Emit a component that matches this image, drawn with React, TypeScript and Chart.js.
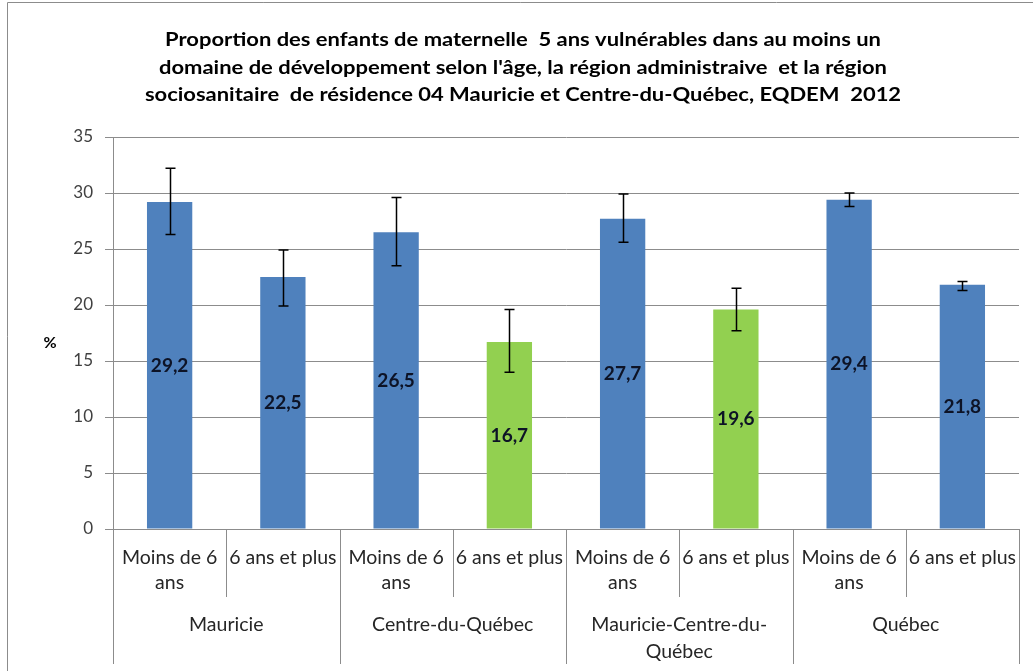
import React, { useEffect, useRef } from "react";
import { Chart, registerables } from "chart.js";

Chart.register(...registerables);

const TITLE_LINES = [
  "Proportion des enfants de maternelle  5 ans vulnérables dans au moins un",
  "domaine de développement selon l'âge, la région administraive  et la région",
  "sociosanitaire  de résidence 04 Mauricie et Centre-du-Québec, EQDEM  2012",
];
const GROUPS: string[][] = [["Mauricie"], ["Centre-du-Québec"], ["Mauricie-Centre-du-", "Québec"], ["Québec"]];
const SUBCATEGORIES: string[][] = [["Moins de 6", "ans"], ["6 ans et plus"]];
const VALUES = [29.2, 22.5, 26.5, 16.7, 27.7, 19.6, 29.4, 21.8];
const VALUE_LABELS = ["29,2", "22,5", "26,5", "16,7", "27,7", "19,6", "29,4", "21,8"];
const ERR_LOW = [26.3, 19.9, 23.5, 14.0, 25.6, 17.7, 28.8, 21.3];
const ERR_HIGH = [32.2, 24.9, 29.6, 19.6, 29.9, 21.5, 30.0, 22.1];
const BLUE = "#4F81BD";
const GREEN = "#92D050";
const BAR_COLORS = [BLUE, BLUE, BLUE, GREEN, BLUE, GREEN, BLUE, BLUE];
const Y_MIN = 0;
const Y_MAX = 35;
const Y_STEP = 5;
const Y_TITLE = "%";

const FONT = "Lato";
const GRID = "#8c8c8c";

const LABELS: string[] = [];
GROUPS.forEach((g) => SUBCATEGORIES.forEach((s) => LABELS.push(g.join(" ") + " - " + s.join(" "))));

const decorations = {
  id: "decorations",
  afterDatasetsDraw(chart: any) {
    const ctx = chart.ctx;
    const meta = chart.getDatasetMeta(0);
    const y = chart.scales.y;
    ctx.save();
    // error bars
    ctx.strokeStyle = "#000";
    ctx.lineWidth = 1.5;
    meta.data.forEach((bar: any, i: number) => {
      const x = Math.round(bar.x) + 0.5;
      const yt = y.getPixelForValue(ERR_HIGH[i]);
      const yb = y.getPixelForValue(ERR_LOW[i]);
      ctx.beginPath();
      ctx.moveTo(x, yt);
      ctx.lineTo(x, yb);
      ctx.moveTo(x - 5, yt);
      ctx.lineTo(x + 5, yt);
      ctx.moveTo(x - 5, yb);
      ctx.lineTo(x + 5, yb);
      ctx.stroke();
    });
    // data labels
    ctx.fillStyle = "#0d1326";
    ctx.font = `bold 19px ${FONT}`;
    ctx.textAlign = "center";
    ctx.textBaseline = "middle";
    meta.data.forEach((bar: any, i: number) => {
      ctx.fillText(VALUE_LABELS[i], bar.x, y.getPixelForValue(VALUES[i] / 2));
    });
    ctx.restore();
  },
  afterDraw(chart: any) {
    const ctx = chart.ctx;
    const x = chart.scales.x;
    const area = chart.chartArea;
    const bottom = area.bottom;
    ctx.save();
    // outer frame (top and left)
    ctx.strokeStyle = GRID;
    ctx.lineWidth = 1;
    ctx.beginPath();
    ctx.moveTo(7.5, 671);
    ctx.lineTo(7.5, 2.5);
    ctx.lineTo(1033, 2.5);
    ctx.stroke();

    // title (horizontally stretched like the reference)
    ctx.fillStyle = "#000";
    ctx.font = `bold 18px ${FONT}`;
    ctx.textAlign = "center";
    ctx.textBaseline = "alphabetic";
    TITLE_LINES.forEach((t, i) => {
      ctx.save();
      ctx.translate(523, 46 + i * 27.6);
      ctx.scale(1.22, 1);
      ctx.fillText(t, 0, 0);
      ctx.restore();
    });

    // y title
    ctx.textBaseline = "middle";
    ctx.font = `bold 16px ${FONT}`;
    ctx.fillText(Y_TITLE, 50, 343);

    // x category separators
    const n = LABELS.length;
    const step = (area.right - area.left) / n;
    ctx.strokeStyle = GRID;
    ctx.beginPath();
    for (let i = 0; i <= n; i++) {
      const px = Math.round(area.left + i * step) + 0.5;
      const isGroup = i % SUBCATEGORIES.length === 0;
      ctx.moveTo(px, bottom);
      ctx.lineTo(px, isGroup ? 664 : 597);
    }
    ctx.stroke();

    // sub labels
    ctx.fillStyle = "#262626";
    ctx.font = `19.5px ${FONT}`;
    LABELS.forEach((_, i) => {
      const cx = x.getPixelForValue(i);
      const lines = SUBCATEGORIES[i % SUBCATEGORIES.length];
      lines.forEach((l, j) => ctx.fillText(l, cx, 558 + j * 25));
    });
    // group labels
    GROUPS.forEach((g, gi) => {
      const i0 = gi * SUBCATEGORIES.length;
      const i1 = i0 + SUBCATEGORIES.length - 1;
      const cx = (x.getPixelForValue(i0) + x.getPixelForValue(i1)) / 2;
      g.forEach((l, j) => ctx.fillText(l, cx, 625 + j * 27));
    });
    ctx.restore();
  },
};

export default function App() {
  const ref = useRef<HTMLCanvasElement | null>(null);
  useEffect(() => {
    document.body.style.margin = "0";
    const canvas = ref.current!;
    const chart = new Chart(canvas, {
      type: "bar",
      data: {
        labels: LABELS,
        datasets: [
          {
            data: VALUES,
            backgroundColor: BAR_COLORS,
            barPercentage: 0.4,
            categoryPercentage: 1,
          },
        ],
      },
      options: {
        responsive: false,
        animation: false,
        layout: { padding: { top: 137, right: 14, bottom: 0, left: 0 } },
        plugins: { legend: { display: false }, tooltip: { enabled: false } },
        scales: {
          x: {
            grid: { display: false },
            ticks: { display: false },
            border: { display: true, color: GRID },
            afterFit: (s: any) => {
              s.height = 142;
            },
          },
          y: {
            min: Y_MIN,
            max: Y_MAX,
            ticks: {
              stepSize: Y_STEP,
              padding: 12,
              color: "#404040",
              font: { family: FONT, size: 17 },
            },
            grid: { color: GRID, tickLength: 8 },
            border: { display: true, color: GRID },
            afterFit: (s: any) => {
              s.width = 113;
            },
          },
        },
      },
      plugins: [decorations],
    });
    return () => chart.destroy();
  }, []);
  return <canvas ref={ref} width={1033} height={671} />;
}
